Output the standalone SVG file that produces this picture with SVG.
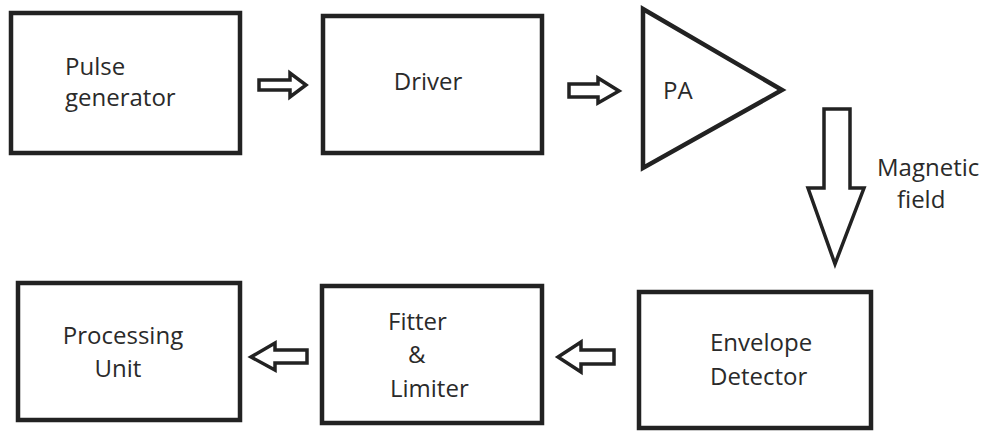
<svg xmlns="http://www.w3.org/2000/svg" width="996" height="431" viewBox="0 0 996 431">
<style>
.box{fill:#fff;stroke:#222;stroke-width:4.5}
.arr{fill:#fff;stroke:#222;stroke-width:3.5;stroke-linejoin:miter}
.t{font-family:"Open Sans","Noto Sans","DejaVu Sans",sans-serif;font-size:24px;fill:#2a2a2a}
.m{text-anchor:middle}
</style>
<rect width="996" height="431" fill="#fff"/>
<g id="pulse">
<rect class="box" x="11" y="13" width="229" height="140"/>
<text class="t" x="65" y="75">Pulse</text>
<text class="t" x="65" y="106">generator</text>
</g>
<g id="driver">
<rect class="box" x="323" y="16" width="219" height="137"/>
<text class="t m" x="428" y="90">Driver</text>
</g>
<g id="pa">
<polygon class="box" points="643,9 782,90 643,168"/>
<text class="t" x="663" y="99">PA</text>
</g>
<g id="processing">
<rect class="box" x="18" y="283" width="222" height="137"/>
<text class="t m" x="123" y="344">Processing</text>
<text class="t m" x="118" y="377">Unit</text>
</g>
<g id="filter">
<rect class="box" x="322" y="286" width="220" height="137"/>
<text class="t" x="388" y="330">Fitter</text>
<text class="t" x="408" y="363">&amp;</text>
<text class="t" x="390" y="397">Limiter</text>
</g>
<g id="envelope">
<rect class="box" x="639" y="292" width="232" height="136"/>
<text class="t" x="710" y="351">Envelope</text>
<text class="t" x="710" y="385">Detector</text>
</g>
<g id="connectors">
<polygon class="arr" points="259,80 290,80 290,73 306,85 290,97 290,90 259,90"/>
<polygon class="arr" points="569,84 598,84 598,78 619,91 598,103 598,97 569,97"/>
<polygon class="arr" points="824,109 850,109 850,188 864,188 835,264 808,188 824,188"/>
<polygon class="arr" points="307,350 275,350 275,343 251,357 275,370 275,363 307,363"/>
<polygon class="arr" points="614,350 581,350 581,342 558,357 581,372 581,364 614,364"/>
<text class="t" x="877" y="176">Magnetic</text>
<text class="t" x="897" y="208">field</text>
</g>
</svg>
